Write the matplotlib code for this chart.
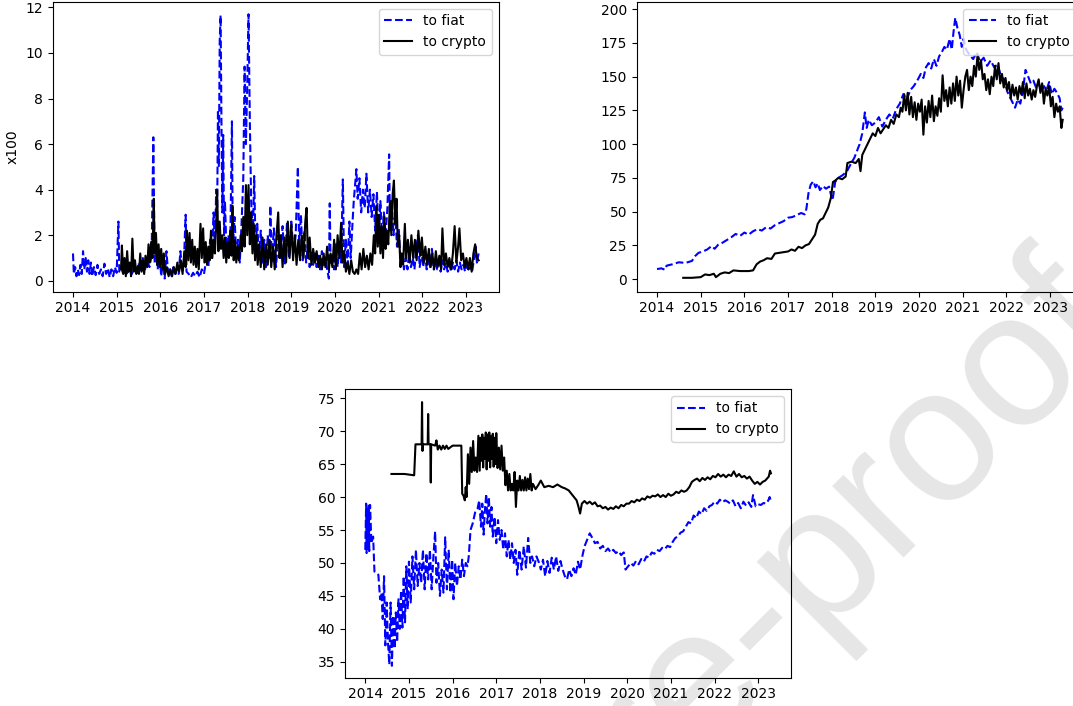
import matplotlib
matplotlib.use("Agg")
import matplotlib.pyplot as plt

years = list(range(2014, 2024))

# panel 1 (x100) : decimal year, value
fiat1_t = [2014.00, 2014.02, 2014.05, 2014.08, 2014.11, 2014.14, 2014.17, 2014.20, 2014.23, 2014.26,
           2014.29, 2014.32, 2014.35, 2014.38, 2014.41, 2014.44, 2014.48, 2014.52, 2014.56, 2014.60,
           2014.64, 2014.68, 2014.72, 2014.76, 2014.80, 2014.84, 2014.88, 2014.92, 2014.96, 2015.00,
           2015.04, 2015.06, 2015.10, 2015.15, 2015.20, 2015.25, 2015.30, 2015.35, 2015.40, 2015.45,
           2015.50, 2015.55, 2015.60, 2015.65, 2015.70, 2015.75, 2015.80, 2015.84, 2015.87, 2015.90,
           2015.94, 2015.98, 2016.02, 2016.06, 2016.10, 2016.14, 2016.18, 2016.22, 2016.26, 2016.30,
           2016.34, 2016.38, 2016.42, 2016.46, 2016.50, 2016.54, 2016.58, 2016.60, 2016.65, 2016.70,
           2016.75, 2016.80, 2016.85, 2016.90, 2016.95, 2017.00, 2017.05, 2017.10, 2017.14, 2017.18,
           2017.22, 2017.25, 2017.28, 2017.30, 2017.32, 2017.34, 2017.36, 2017.38, 2017.40, 2017.42,
           2017.44, 2017.46, 2017.48, 2017.52, 2017.56, 2017.60, 2017.64, 2017.66, 2017.70, 2017.74,
           2017.78, 2017.82, 2017.86, 2017.90, 2017.93, 2017.96, 2017.99, 2018.02, 2018.05, 2018.08,
           2018.12, 2018.15, 2018.18, 2018.22, 2018.26, 2018.30, 2018.34, 2018.38, 2018.42, 2018.46,
           2018.50, 2018.52, 2018.55, 2018.60, 2018.65, 2018.70, 2018.75, 2018.80, 2018.85, 2018.90,
           2018.95, 2019.00, 2019.05, 2019.10, 2019.15, 2019.18, 2019.22, 2019.26, 2019.30, 2019.34,
           2019.38, 2019.42, 2019.46, 2019.50, 2019.54, 2019.58, 2019.62, 2019.66, 2019.70, 2019.74,
           2019.78, 2019.82, 2019.86, 2019.88, 2019.90, 2019.94, 2019.98, 2020.02, 2020.06, 2020.10,
           2020.14, 2020.18, 2020.21, 2020.25, 2020.29, 2020.33, 2020.36, 2020.40, 2020.43, 2020.46,
           2020.49, 2020.52, 2020.56, 2020.60, 2020.64, 2020.68, 2020.72, 2020.76, 2020.80, 2020.84,
           2020.88, 2020.92, 2020.96, 2021.00, 2021.04, 2021.08, 2021.12, 2021.16, 2021.20, 2021.24,
           2021.26, 2021.30, 2021.34, 2021.38, 2021.42, 2021.46, 2021.50, 2021.54, 2021.58, 2021.62,
           2021.66, 2021.70, 2021.74, 2021.78, 2021.82, 2021.86, 2021.90, 2021.94, 2021.98, 2022.02,
           2022.06, 2022.10, 2022.14, 2022.18, 2022.22, 2022.26, 2022.30, 2022.34, 2022.38, 2022.42,
           2022.46, 2022.50, 2022.54, 2022.58, 2022.62, 2022.66, 2022.70, 2022.74, 2022.78, 2022.82,
           2022.86, 2022.90, 2022.94, 2022.98, 2023.02, 2023.06, 2023.10, 2023.14, 2023.18, 2023.22,
           2023.25, 2023.29]
fiat1_v = [1.2, 0.3, 0.6, 0.2, 0.5, 0.25, 0.7, 0.3, 1.3, 0.5,
           1.0, 0.4, 0.9, 0.3, 0.8, 0.2, 0.6, 0.25, 0.7, 0.3,
           0.5, 0.2, 0.75, 0.3, 0.55, 0.15, 0.5, 0.2, 0.6, 0.35,
           2.6, 0.4, 0.6, 0.3, 0.5, 0.25, 0.7, 0.3, 0.6, 0.3,
           0.8, 0.4, 1.0, 0.5, 0.9, 0.6, 1.1, 6.3, 0.8, 1.2,
           0.5, 1.3, 0.2, 0.9, 0.1, 1.3, 0.3, 0.5, 0.2, 0.6,
           0.3, 0.5, 0.3, 1.3, 0.4, 0.8, 2.9, 0.4, 0.3, 0.15,
           0.35, 0.2, 0.4, 0.15, 0.5, 0.3, 0.9, 0.6, 1.8, 1.0,
           3.0, 1.5, 4.0, 2.5, 7.5, 5.0, 10.5, 11.65, 7.0, 3.0,
           6.4, 2.0, 3.5, 1.0, 2.0, 1.3, 7.0, 1.5, 2.8, 1.0,
           1.8, 0.8, 2.5, 4.5, 9.4, 6.0, 8.5, 11.7, 7.0, 3.5,
           2.0, 4.6, 1.5, 2.5, 1.0, 2.2, 0.8, 1.8, 0.6, 2.0,
           1.0, 3.3, 0.8, 2.3, 0.6, 2.0, 1.0, 2.4, 0.7, 2.5,
           1.0, 2.6, 1.2, 2.0, 5.0, 1.5, 2.9, 0.9, 2.2, 0.8,
           1.6, 0.6, 1.3, 0.7, 1.2, 0.6, 1.1, 0.5, 1.3, 0.6,
           1.0, 0.5, 0.1, 3.4, 0.7, 1.2, 0.5, 1.6, 0.6, 1.5,
           0.8, 4.45, 0.6, 1.8, 0.7, 2.6, 1.0, 2.5, 3.5, 4.2,
           4.9, 3.6, 4.5, 3.0, 4.0, 3.2, 4.7, 3.0, 4.0, 2.8,
           3.8, 2.2, 3.9, 2.0, 3.5, 1.8, 3.0, 2.0, 3.2, 5.55,
           2.2, 3.5, 2.0, 3.0, 1.5, 2.3, 0.8, 1.2, 0.5, 1.0,
           0.5, 1.2, 0.6, 1.0, 0.5, 1.4, 2.0, 0.6, 1.3, 0.6,
           1.2, 0.5, 1.0, 0.6, 1.4, 0.5, 0.9, 0.5, 0.8, 0.4,
           0.9, 0.5, 0.8, 0.4, 0.7, 0.4, 0.8, 0.5, 0.9, 0.4,
           0.8, 0.5, 0.7, 0.4, 0.8, 0.5, 0.6, 0.4, 0.9, 1.5,
           0.8, 1.2]

crypto1_t = [2015.10, 2015.12, 2015.15, 2015.18, 2015.21, 2015.24, 2015.27, 2015.30, 2015.33, 2015.36,
             2015.39, 2015.42, 2015.45, 2015.48, 2015.51, 2015.54, 2015.57, 2015.60, 2015.63, 2015.66,
             2015.70, 2015.73, 2015.76, 2015.79, 2015.82, 2015.85, 2015.87, 2015.90, 2015.93, 2015.96,
             2015.99, 2016.02, 2016.05, 2016.08, 2016.11, 2016.15, 2016.19, 2016.23, 2016.27, 2016.31,
             2016.35, 2016.39, 2016.43, 2016.47, 2016.51, 2016.55, 2016.58, 2016.61, 2016.64, 2016.67,
             2016.70, 2016.73, 2016.76, 2016.79, 2016.82, 2016.85, 2016.88, 2016.92, 2016.95, 2016.98,
             2017.01, 2017.04, 2017.07, 2017.10, 2017.13, 2017.16, 2017.19, 2017.22, 2017.25, 2017.28,
             2017.30, 2017.33, 2017.36, 2017.39, 2017.42, 2017.45, 2017.48, 2017.51, 2017.54, 2017.57,
             2017.60, 2017.63, 2017.65, 2017.68, 2017.71, 2017.74, 2017.77, 2017.80, 2017.84, 2017.87,
             2017.90, 2017.93, 2017.96, 2017.99, 2018.02, 2018.05, 2018.08, 2018.11, 2018.14, 2018.17,
             2018.20, 2018.23, 2018.26, 2018.30, 2018.34, 2018.38, 2018.42, 2018.46, 2018.50, 2018.54,
             2018.58, 2018.62, 2018.66, 2018.70, 2018.73, 2018.76, 2018.80, 2018.84, 2018.88, 2018.92,
             2018.96, 2019.00, 2019.04, 2019.08, 2019.12, 2019.16, 2019.20, 2019.24, 2019.28, 2019.32,
             2019.35, 2019.38, 2019.42, 2019.46, 2019.50, 2019.54, 2019.58, 2019.62, 2019.66, 2019.70,
             2019.74, 2019.78, 2019.82, 2019.86, 2019.90, 2019.94, 2019.98, 2020.02, 2020.06, 2020.10,
             2020.14, 2020.17, 2020.21, 2020.25, 2020.29, 2020.33, 2020.37, 2020.41, 2020.45, 2020.49,
             2020.53, 2020.57, 2020.61, 2020.65, 2020.69, 2020.73, 2020.77, 2020.81, 2020.85, 2020.89,
             2020.92, 2020.95, 2020.98, 2021.01, 2021.04, 2021.07, 2021.10, 2021.13, 2021.16, 2021.19,
             2021.22, 2021.26, 2021.29, 2021.32, 2021.35, 2021.38, 2021.41, 2021.44, 2021.47, 2021.50,
             2021.53, 2021.56, 2021.60, 2021.63, 2021.67, 2021.71, 2021.75, 2021.79, 2021.83, 2021.87,
             2021.91, 2021.95, 2021.99, 2022.03, 2022.07, 2022.11, 2022.15, 2022.19, 2022.23, 2022.27,
             2022.31, 2022.35, 2022.39, 2022.43, 2022.46, 2022.50, 2022.54, 2022.58, 2022.62, 2022.66,
             2022.70, 2022.74, 2022.78, 2022.82, 2022.85, 2022.89, 2022.93, 2022.97, 2023.01, 2023.05,
             2023.09, 2023.13, 2023.17, 2023.21, 2023.25, 2023.29]
crypto1_v = [0.5, 1.55, 0.3, 1.0, 0.2, 1.3, 0.4, 0.8, 0.2, 1.85,
             0.4, 0.9, 0.3, 0.6, 0.3, 1.2, 0.4, 0.9, 0.3, 1.1,
             0.6, 1.6, 0.8, 1.7, 1.0, 3.6, 1.2, 2.1, 0.7, 1.6,
             0.6, 1.4, 0.5, 1.2, 0.3, 0.6, 0.2, 0.5, 0.2, 0.6,
             0.3, 0.8, 0.4, 0.9, 0.3, 1.3, 0.6, 2.2, 0.9, 2.1,
             0.8, 1.8, 0.7, 1.5, 0.6, 1.4, 0.5, 2.5, 1.0, 2.3,
             0.8, 1.7, 0.7, 1.5, 0.9, 2.2, 1.0, 1.8, 1.2, 2.5,
             4.0, 1.3, 2.6, 1.4, 2.0, 1.0, 1.9, 0.8, 1.7, 1.0,
             2.2, 1.1, 3.3, 0.9, 1.8, 0.8, 1.5, 0.9, 2.0, 1.3,
             2.8, 1.5, 4.2, 2.0, 4.2, 1.6, 3.0, 1.2, 2.5, 0.9,
             2.0, 0.7, 1.6, 0.6, 1.9, 0.5, 1.6, 0.7, 1.8, 0.6,
             1.5, 0.5, 2.0, 3.0, 1.0, 2.0, 0.6, 1.9, 0.8, 2.6,
             1.0, 2.5, 0.9, 2.0, 0.7, 1.8, 0.9, 2.0, 1.0, 2.6,
             3.2, 1.0, 1.9, 0.7, 1.4, 0.8, 1.3, 0.6, 1.1, 0.5,
             1.2, 0.6, 1.5, 0.5, 1.2, 0.6, 1.8, 0.5, 2.0, 1.0,
             2.55, 0.8, 1.3, 0.4, 0.8, 0.3, 0.9, 0.4, 0.3, 0.5,
             0.3, 1.2, 0.5, 1.4, 0.6, 1.1, 0.5, 1.2, 0.7, 2.0,
             1.2, 3.3, 1.5, 2.9, 1.2, 2.4, 1.0, 2.8, 1.4, 2.2,
             1.6, 3.5, 2.0, 3.8, 4.4, 2.5, 3.6, 1.5, 2.0, 0.6,
             1.2, 0.7, 2.5, 1.0, 1.8, 0.8, 2.0, 1.0, 1.8, 0.9,
             2.2, 1.1, 1.9, 0.8, 1.5, 0.7, 1.4, 0.6, 1.2, 0.5,
             1.3, 0.6, 1.1, 0.5, 2.3, 0.7, 1.2, 0.6, 1.0, 0.5,
             1.2, 2.4, 0.8, 1.5, 2.3, 0.9, 1.2, 0.6, 1.0, 0.5,
             1.0, 0.4, 1.2, 1.6, 1.0, 0.9]

# panel 2 : cumulative
fiat2_t = [2014.00, 2014.10, 2014.18, 2014.22, 2014.35, 2014.50, 2014.65, 2014.80, 2014.87, 2014.95,
           2015.05, 2015.15, 2015.25, 2015.32, 2015.40, 2015.50, 2015.60, 2015.70, 2015.80, 2015.90,
           2016.00, 2016.10, 2016.20, 2016.30, 2016.40, 2016.50, 2016.60, 2016.70, 2016.80, 2016.90,
           2017.00, 2017.10, 2017.20, 2017.30, 2017.38, 2017.42, 2017.47, 2017.52, 2017.58, 2017.63,
           2017.68, 2017.73, 2017.80, 2017.87, 2017.94, 2017.98, 2018.02, 2018.08, 2018.15, 2018.25,
           2018.35, 2018.45, 2018.52, 2018.58, 2018.64, 2018.70, 2018.76, 2018.80, 2018.85, 2018.92,
           2019.00, 2019.08, 2019.16, 2019.24, 2019.32, 2019.40, 2019.48, 2019.56, 2019.64, 2019.72,
           2019.80, 2019.88, 2019.96, 2020.04, 2020.10, 2020.16, 2020.22, 2020.28, 2020.34, 2020.40,
           2020.46, 2020.52, 2020.58, 2020.64, 2020.70, 2020.75, 2020.79, 2020.83, 2020.88, 2020.93,
           2020.98, 2021.02, 2021.08, 2021.16, 2021.24, 2021.32, 2021.40, 2021.48, 2021.56, 2021.64,
           2021.72, 2021.80, 2021.88, 2021.95, 2022.02, 2022.08, 2022.14, 2022.20, 2022.26, 2022.32,
           2022.38, 2022.44, 2022.50, 2022.56, 2022.62, 2022.68, 2022.74, 2022.80, 2022.86, 2022.92,
           2022.98, 2023.04, 2023.10, 2023.16, 2023.22, 2023.26, 2023.29]
fiat2_v = [7.5, 8.0, 7.0, 10.0, 11.0, 12.5, 12.0, 13.5, 17.0, 19.5,
           20.5, 22.0, 24.5, 22.5, 25.5, 27.0, 29.0, 31.0, 33.5, 32.0,
           34.5, 33.0, 35.5, 37.0, 36.0, 38.5, 37.5, 40.0, 41.5, 43.0,
           45.5, 46.0, 47.5, 49.0, 48.0, 52.0, 64.0, 70.0, 72.5, 68.0,
           71.0, 66.0, 69.0, 67.0, 68.5, 63.0, 58.5, 72.0, 75.0, 77.0,
           80.0, 86.0, 90.0, 95.0, 100.0, 108.0, 123.5, 112.0, 118.0, 114.0,
           116.0, 120.0, 113.0, 118.0, 122.0, 119.0, 126.0, 130.0, 137.0, 133.0,
           140.0, 143.0, 147.0, 152.0, 149.0, 157.0, 160.0, 156.0, 163.0, 158.0,
           165.0, 168.0, 172.0, 170.0, 178.0, 170.0, 183.0, 193.5, 186.0, 181.0,
           172.0, 178.0, 170.0, 166.0, 163.0, 168.0, 161.0, 164.0, 158.0, 162.0,
           157.0, 159.0, 150.0, 148.0, 139.0, 135.0, 131.0, 127.0, 133.0, 130.0,
           140.0, 155.0, 150.0, 145.0, 147.0, 142.0, 145.0, 139.0, 143.0, 140.0,
           146.0, 137.0, 141.0, 138.0, 134.0, 125.0, 127.0]

crypto2_t = [2014.60, 2014.80, 2015.00, 2015.10, 2015.20, 2015.30, 2015.35, 2015.45, 2015.55, 2015.65,
             2015.75, 2015.90, 2016.10, 2016.20, 2016.28, 2016.36, 2016.44, 2016.52, 2016.62, 2016.70,
             2016.80, 2016.90, 2017.00, 2017.08, 2017.16, 2017.24, 2017.32, 2017.40, 2017.48, 2017.56,
             2017.62, 2017.68, 2017.74, 2017.80, 2017.86, 2017.92, 2017.98, 2018.03, 2018.08, 2018.15,
             2018.24, 2018.32, 2018.36, 2018.45, 2018.55, 2018.62, 2018.66, 2018.70, 2018.76, 2018.82,
             2018.88, 2018.94, 2019.00, 2019.06, 2019.12, 2019.18, 2019.24, 2019.30, 2019.36, 2019.42,
             2019.48, 2019.54, 2019.58, 2019.62, 2019.66, 2019.70, 2019.74, 2019.78, 2019.82, 2019.86,
             2019.90, 2019.94, 2019.98, 2020.02, 2020.06, 2020.10, 2020.14, 2020.18, 2020.22, 2020.26,
             2020.30, 2020.34, 2020.38, 2020.42, 2020.46, 2020.50, 2020.54, 2020.58, 2020.62, 2020.66,
             2020.70, 2020.74, 2020.78, 2020.82, 2020.86, 2020.90, 2020.94, 2020.98, 2021.02, 2021.06,
             2021.10, 2021.14, 2021.18, 2021.22, 2021.26, 2021.30, 2021.34, 2021.38, 2021.42, 2021.46,
             2021.50, 2021.54, 2021.58, 2021.62, 2021.66, 2021.70, 2021.74, 2021.78, 2021.82, 2021.86,
             2021.90, 2021.94, 2021.98, 2022.02, 2022.06, 2022.10, 2022.14, 2022.18, 2022.22, 2022.26,
             2022.30, 2022.34, 2022.38, 2022.42, 2022.46, 2022.50, 2022.54, 2022.58, 2022.62, 2022.66,
             2022.70, 2022.74, 2022.78, 2022.82, 2022.86, 2022.90, 2022.94, 2022.98, 2023.02, 2023.06,
             2023.10, 2023.14, 2023.18, 2023.22, 2023.26, 2023.29]
crypto2_v = [1.0, 1.0, 1.5, 3.5, 3.0, 4.0, 1.5, 4.0, 5.0, 4.5,
             6.5, 6.0, 6.0, 6.5, 11.0, 13.0, 14.0, 15.5, 15.0, 19.0,
             19.5, 20.0, 20.5, 22.0, 21.0, 24.0, 23.0, 25.0, 26.0, 30.0,
             33.0, 41.0, 44.0, 45.0, 49.0, 53.0, 60.0, 72.0, 73.0, 75.0,
             74.0, 76.0, 86.0, 87.0, 86.0, 89.0, 80.0, 92.0, 96.0, 100.0,
             104.0, 108.0, 106.0, 112.0, 108.0, 111.0, 114.0, 112.0, 118.0, 115.0,
             122.0, 120.0, 127.0, 124.0, 137.0, 125.0, 138.0, 122.0, 135.0, 120.0,
             131.0, 118.0, 130.0, 124.0, 133.0, 107.0, 128.0, 116.0, 132.0, 120.0,
             136.0, 117.0, 128.0, 121.0, 134.0, 124.0, 151.0, 132.0, 140.0, 128.0,
             142.0, 130.0, 145.0, 132.0, 150.0, 136.0, 147.0, 127.0, 140.0, 150.0,
             155.0, 140.0, 150.0, 143.0, 158.0, 150.0, 166.0, 155.0, 162.0, 148.0,
             152.0, 140.0, 148.0, 137.0, 150.0, 143.0, 158.0, 148.0, 160.0, 145.0,
             152.0, 142.0, 149.0, 140.0, 146.0, 134.0, 144.0, 136.0, 142.0, 133.0,
             143.0, 137.0, 146.0, 134.0, 145.0, 136.0, 141.0, 133.0, 140.0, 135.0,
             143.0, 148.0, 138.0, 145.0, 130.0, 141.0, 136.0, 143.0, 128.0, 135.0,
             120.0, 130.0, 124.0, 128.0, 112.0, 118.0]

# panel 3
fiat3_t = [2014.00, 2014.02, 2014.03, 2014.05, 2014.06, 2014.08, 2014.09, 2014.11, 2014.14, 2014.18,
           2014.21, 2014.26, 2014.30, 2014.34, 2014.37, 2014.40, 2014.43, 2014.46, 2014.49, 2014.52,
           2014.55, 2014.58, 2014.61, 2014.64, 2014.67, 2014.70, 2014.73, 2014.76, 2014.79, 2014.82,
           2014.85, 2014.88, 2014.91, 2014.94, 2014.97, 2015.00, 2015.04, 2015.08, 2015.12, 2015.16,
           2015.20, 2015.24, 2015.28, 2015.32, 2015.36, 2015.40, 2015.44, 2015.48, 2015.52, 2015.56,
           2015.60, 2015.63, 2015.67, 2015.71, 2015.75, 2015.79, 2015.83, 2015.87, 2015.91, 2015.95,
           2015.99, 2016.02, 2016.06, 2016.10, 2016.14, 2016.18, 2016.22, 2016.26, 2016.30, 2016.34,
           2016.37, 2016.41, 2016.46, 2016.52, 2016.57, 2016.61, 2016.65, 2016.68, 2016.71, 2016.74,
           2016.77, 2016.80, 2016.83, 2016.86, 2016.89, 2016.92, 2016.96, 2017.00, 2017.04, 2017.08,
           2017.12, 2017.16, 2017.20, 2017.24, 2017.28, 2017.32, 2017.36, 2017.40, 2017.44, 2017.48,
           2017.53, 2017.58, 2017.63, 2017.68, 2017.73, 2017.78, 2017.82, 2017.87, 2017.92, 2017.97,
           2018.02, 2018.07, 2018.12, 2018.17, 2018.22, 2018.27, 2018.32, 2018.37, 2018.42, 2018.47,
           2018.52, 2018.57, 2018.62, 2018.67, 2018.72, 2018.77, 2018.82, 2018.87, 2018.92, 2018.97,
           2019.02, 2019.08, 2019.14, 2019.20, 2019.26, 2019.32, 2019.38, 2019.44, 2019.50, 2019.56,
           2019.62, 2019.68, 2019.74, 2019.80, 2019.86, 2019.92, 2019.96, 2020.02, 2020.08, 2020.14,
           2020.20, 2020.26, 2020.32, 2020.38, 2020.44, 2020.50, 2020.56, 2020.62, 2020.68, 2020.74,
           2020.80, 2020.86, 2020.92, 2020.98, 2021.04, 2021.10, 2021.16, 2021.22, 2021.28, 2021.34,
           2021.40, 2021.46, 2021.52, 2021.58, 2021.64, 2021.70, 2021.76, 2021.82, 2021.88, 2021.94,
           2022.00, 2022.06, 2022.12, 2022.18, 2022.24, 2022.30, 2022.36, 2022.42, 2022.48, 2022.54,
           2022.60, 2022.66, 2022.72, 2022.78, 2022.84, 2022.88, 2022.94, 2023.00, 2023.06, 2023.12,
           2023.18, 2023.23, 2023.26, 2023.29]
fiat3_v = [52.0, 59.0, 51.5, 58.5, 52.0, 59.0, 51.8, 58.8, 53.0, 54.0,
           48.7, 48.5, 48.2, 44.5, 45.5, 41.5, 48.0, 37.5, 44.0, 38.0,
           34.6, 44.0, 34.4, 42.0, 37.0, 42.5, 38.0, 44.5, 40.0, 45.8,
           40.2, 48.0, 41.0, 49.5, 43.0, 50.2, 44.0, 51.0, 46.0, 52.0,
           46.5, 50.0, 47.0, 52.0, 46.0, 51.5, 47.5, 52.0, 46.0, 51.0,
           54.8, 47.0, 50.0, 45.0, 49.0, 45.5, 53.9, 46.0, 52.0, 45.5,
           50.5, 44.5, 50.0, 46.5, 49.5, 47.5, 50.5, 48.0, 50.0, 49.5,
           51.0, 55.0, 56.0, 57.8, 58.2, 59.5, 55.5, 59.0, 54.3, 58.0,
           60.5, 56.0, 60.0, 55.5, 58.5, 54.0, 57.0, 53.0, 56.5, 53.5,
           55.0, 52.0, 54.5, 51.0, 53.5, 50.5, 53.0, 50.0, 52.0, 48.2,
           52.0, 49.0, 52.5, 49.3, 53.8, 50.0, 51.0, 49.5, 51.0, 50.2,
           49.0, 50.5, 48.0, 50.3, 48.5, 50.8, 49.0, 51.0, 48.8, 50.3,
           49.0, 48.0, 47.5, 49.0, 48.0, 49.2, 48.2, 50.2, 49.0, 51.0,
           52.5, 53.5, 54.5, 53.8, 53.0, 53.2, 52.2, 52.6, 51.8, 52.2,
           51.6, 52.0, 51.5, 51.8, 51.2, 51.6, 49.0, 49.5, 50.0, 49.6,
           50.3, 49.8, 50.6, 50.2, 51.0, 50.8, 51.6, 51.4, 52.0, 51.8,
           52.3, 52.1, 52.6, 52.4, 53.2, 53.8, 54.0, 54.6, 54.8, 55.5,
           56.2, 56.0, 57.2, 56.8, 57.8, 57.4, 58.3, 57.9, 58.6, 58.8,
           59.3, 59.0, 59.6, 59.2, 59.5, 59.3, 59.0, 59.5, 58.6, 59.1,
           58.3, 59.3, 58.7, 59.2, 58.5, 60.3, 58.6, 58.9, 58.8, 59.1,
           59.0, 59.5, 60.0, 59.4]

crypto3_t = [2014.60, 2014.90, 2015.12, 2015.15, 2015.29, 2015.30, 2015.31, 2015.32, 2015.33, 2015.43,
             2015.44, 2015.45, 2015.49, 2015.50, 2015.51, 2015.60, 2015.63, 2015.66, 2015.70, 2015.74,
             2015.78, 2015.82, 2015.86, 2015.90, 2016.00, 2016.10, 2016.20, 2016.22, 2016.25, 2016.28,
             2016.30, 2016.32, 2016.35, 2016.38, 2016.41, 2016.44, 2016.47, 2016.50, 2016.53, 2016.56,
             2016.59, 2016.62, 2016.64, 2016.66, 2016.68, 2016.70, 2016.72, 2016.74, 2016.76, 2016.78,
             2016.80, 2016.82, 2016.84, 2016.86, 2016.88, 2016.90, 2016.92, 2016.94, 2016.96, 2016.98,
             2017.00, 2017.03, 2017.06, 2017.09, 2017.12, 2017.15, 2017.18, 2017.21, 2017.24, 2017.27,
             2017.30, 2017.33, 2017.36, 2017.39, 2017.42, 2017.45, 2017.48, 2017.51, 2017.54, 2017.57,
             2017.60, 2017.63, 2017.66, 2017.69, 2017.72, 2017.75, 2017.78, 2017.81, 2017.84, 2017.90,
             2017.96, 2018.02, 2018.10, 2018.20, 2018.30, 2018.40, 2018.50, 2018.58, 2018.66, 2018.72,
             2018.78, 2018.84, 2018.88, 2018.92, 2018.96, 2019.02, 2019.08, 2019.14, 2019.20, 2019.26,
             2019.32, 2019.38, 2019.44, 2019.50, 2019.56, 2019.62, 2019.68, 2019.74, 2019.80, 2019.86,
             2019.92, 2019.98, 2020.04, 2020.10, 2020.16, 2020.22, 2020.28, 2020.34, 2020.40, 2020.46,
             2020.52, 2020.58, 2020.64, 2020.70, 2020.76, 2020.82, 2020.88, 2020.94, 2021.00, 2021.06,
             2021.12, 2021.18, 2021.24, 2021.30, 2021.36, 2021.42, 2021.48, 2021.54, 2021.60, 2021.66,
             2021.72, 2021.78, 2021.84, 2021.90, 2021.96, 2022.02, 2022.08, 2022.14, 2022.20, 2022.26,
             2022.32, 2022.38, 2022.44, 2022.50, 2022.56, 2022.62, 2022.68, 2022.74, 2022.80, 2022.86,
             2022.92, 2022.98, 2023.04, 2023.10, 2023.16, 2023.20, 2023.24, 2023.27, 2023.29]
crypto3_v = [63.5, 63.5, 63.3, 68.0, 68.0, 74.4, 67.0, 68.0, 68.0, 68.0,
             72.6, 68.0, 68.0, 62.2, 68.0, 67.8, 68.6, 67.2, 67.8, 67.2,
             67.8, 67.3, 67.8, 67.3, 67.8, 67.8, 67.8, 60.5, 60.2, 59.5,
             61.5, 60.0, 66.5, 62.0, 67.5, 63.8, 68.5, 64.0, 66.0, 63.8,
             69.3, 64.0, 69.0, 65.5, 69.5, 64.5, 69.0, 65.8, 69.8, 64.2,
             69.5, 65.5, 69.8, 64.5, 69.2, 65.8, 69.6, 64.6, 69.0, 65.0,
             69.7, 64.4, 67.5, 64.2, 67.8, 64.0, 66.0, 61.8, 64.0, 61.0,
             63.5, 61.0, 62.0, 61.0, 63.8, 58.5, 62.5, 61.0, 63.2, 61.0,
             62.6, 61.0, 63.0, 61.0, 62.8, 61.2, 63.5, 61.0, 62.0, 61.2,
             61.8, 62.5, 61.5, 61.7, 61.5, 61.9, 61.5, 61.3, 61.0, 60.5,
             60.0, 59.5, 58.6, 57.5, 59.0, 59.4, 59.0, 59.3, 58.9, 59.2,
             58.6, 58.7, 58.3, 58.5, 58.1, 58.4, 58.2, 58.6, 58.3, 58.8,
             58.6, 59.0, 59.0, 59.4, 59.2, 59.6, 59.4, 59.8, 59.6, 60.1,
             59.9, 60.2, 60.1, 60.4, 60.0, 60.3, 60.0, 60.5, 60.2, 60.4,
             60.8, 60.6, 61.0, 60.8, 61.0, 61.5, 62.3, 62.6, 62.8, 62.4,
             62.9, 62.6, 63.0, 62.7, 63.2, 63.0, 63.5, 63.1, 63.4, 63.0,
             63.4, 63.2, 63.9, 63.1, 63.5, 63.0, 63.2, 62.8, 63.1, 62.5,
             62.0, 62.3, 61.9, 62.3, 62.5, 62.8, 63.1, 64.0, 63.6]

fig = plt.figure(figsize=(10.73, 7.06), dpi=100)

ax1 = fig.add_axes([0.0491, 0.5868, 0.4157, 0.4108])
ax2 = fig.add_axes([0.5934, 0.5868, 0.4157, 0.4108])
ax3 = fig.add_axes([0.3215, 0.0401, 0.4157, 0.4090])

ax1.plot(fiat1_t, fiat1_v, 'b--', label='to fiat')
ax1.plot(crypto1_t, crypto1_v, 'k-', label='to crypto')
ax1.set_ylabel('x100')
ax1.set_ylim(-0.48, 12.25)

ax2.plot(fiat2_t, fiat2_v, 'b--', label='to fiat')
ax2.plot(crypto2_t, crypto2_v, 'k-', label='to crypto')
ax2.set_ylim(-9.3, 205.5)

ax3.plot(fiat3_t, fiat3_v, 'b--', label='to fiat')
ax3.plot(crypto3_t, crypto3_v, 'k-', label='to crypto')
ax3.set_ylim(32.6, 76.4)

for ax in (ax1, ax2, ax3):
    ax.set_xlim(2013.535, 2023.75)
    ax.set_xticks(years)
    ax.set_xticklabels([str(y) for y in years])
    ax.legend(loc='upper right')

# watermark of the source page (runs off the edge like in the original)
fig.text(0.531, -0.163, 'Journal Pre-proof', fontsize=138, family='Liberation Sans',
         color='black', alpha=0.1, rotation=45, rotation_mode='anchor',
         ha='center', va='center', zorder=10)

fig.savefig('out.png', dpi=100)
